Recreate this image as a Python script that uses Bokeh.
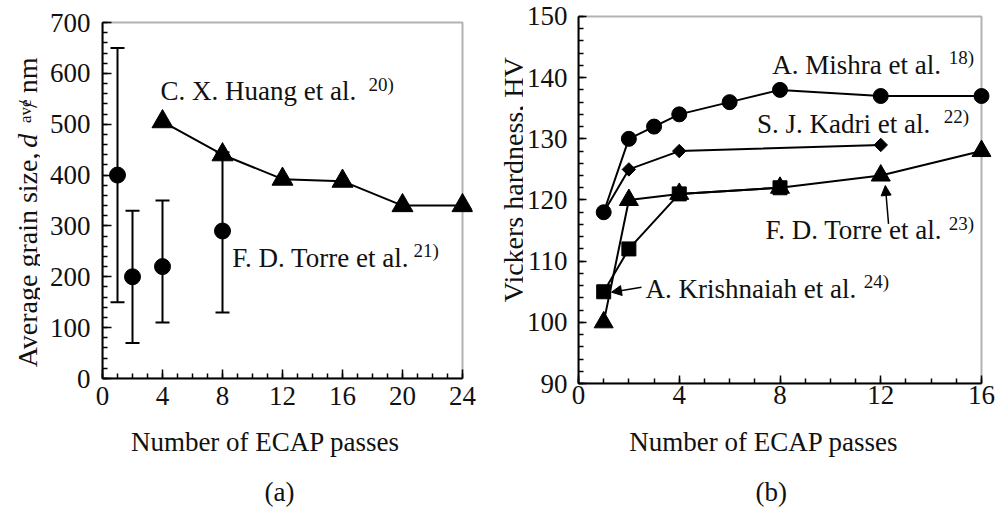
import math
from bokeh.plotting import figure
from bokeh.layouts import row, column
from bokeh.models import (Range1d, SingleIntervalTicker, Label, Whisker, TeeHead,
                          ColumnDataSource, Arrow, NormalHead, BoxAnnotation)
from bokeh.core.properties import value
from bokeh.embed import file_html
from bokeh.resources import INLINE

# ---------------- data (a) ----------------
huang_passes = [4, 8, 12, 16, 20, 24]
huang_grain = [505, 440, 392, 388, 340, 340]
torre_a_passes = [1, 2, 4, 8]
torre_a_grain = [400, 200, 220, 290]
torre_a_low = [150, 70, 110, 130]
torre_a_high = [650, 330, 350, 445]

# ---------------- data (b) ----------------
mishra_passes = [1, 2, 3, 4, 6, 8, 12, 16]
mishra_hv = [118, 130, 132, 134, 136, 138, 137, 137]
kadri_passes = [1, 2, 4, 12]
kadri_hv = [118, 125, 128, 129]
torre_b_passes = [1, 2, 4, 8, 12, 16]
torre_b_hv = [100, 120, 121, 122, 124, 128]
krish_passes = [1, 2, 4, 8]
krish_hv = [105, 112, 121, 122]

FONT = "Liberation Serif"
FS = "27px"
SUP = "19px"
INK = "#111111"
TOP_H = 423
BOT_H = 514 - TOP_H


def style(p, xb, yb, xint, yint, major_in, minor_in, xstand, ystand):
    p.xgrid.visible = False
    p.ygrid.visible = False
    p.outline_line_color = None
    p.background_fill_color = "white"
    p.border_fill_color = "white"
    p.xaxis.ticker = SingleIntervalTicker(interval=xint, num_minor_ticks=4)
    p.yaxis.ticker = SingleIntervalTicker(interval=yint, num_minor_ticks=5)
    p.xaxis.bounds = xb
    p.yaxis.bounds = yb
    for ax in (p.xaxis[0], p.yaxis[0]):
        ax.axis_line_color = "black"
        ax.axis_line_width = 2
        ax.major_tick_in = major_in
        ax.major_tick_out = 0
        ax.minor_tick_in = minor_in
        ax.minor_tick_out = 0
        ax.major_tick_line_width = 1.5
        ax.minor_tick_line_width = 1.5
        ax.major_label_text_font = FONT
        ax.major_label_text_font_size = FS
        ax.major_label_text_color = INK
    p.xaxis.major_label_standoff = xstand
    p.yaxis.major_label_standoff = ystand
    # plot box (top and right edges drawn inside a slightly larger frame so
    # that edge markers are not cut)
    p.add_layout(BoxAnnotation(left=xb[0], right=xb[1], bottom=yb[0], top=yb[1],
                               fill_alpha=0, line_color="black", line_width=2,
                               level="underlay"))


def lab(p, x, y, text, size=FS, style_="normal", align="left", baseline="alphabetic"):
    p.add_layout(Label(x=x, y=y, text=text, text_font=FONT, text_font_size=size,
                       text_font_style=style_, text_align=align, text_baseline=baseline,
                       text_color=INK))


def label_fig(w, h):
    f = figure(width=w, height=h, x_range=Range1d(0, w), y_range=Range1d(0, h),
               x_axis_type=None, y_axis_type=None, min_border=0,
               output_backend="svg", toolbar_location=None)
    f.outline_line_color = None
    f.xgrid.visible = False
    f.ygrid.visible = False
    f.background_fill_color = "white"
    f.border_fill_color = "white"
    return f


def txt(f, h, x, y_top, s, size=FS, style_="normal", align="center", angle=0.0):
    # y_top: pixels measured from the top of the small label canvas
    f.text(x=[x], y=[h - y_top], text=[s], text_font=value(FONT), text_font_size=value(size),
           text_font_style=style_, text_align=align, text_baseline="alphabetic",
           text_color=INK, angle=angle)


A = math.pi / 2

# ---------------- panel (a) ----------------
la = label_fig(40, TOP_H)
txt(la, TOP_H, 27, 284.5, "Average grain size,", size="28px", angle=A)
txt(la, TOP_H, 27, 144, "d", size="28px", style_="italic", angle=A)
txt(la, TOP_H, 25, 109.2, "ave", size="17px", angle=A)
txt(la, TOP_H, 27, 75.7, "/ nm", size="28px", angle=A)

pa = figure(frame_width=370, frame_height=360, min_border_left=62, min_border_right=25,
            min_border_top=17, min_border_bottom=TOP_H - 17 - 360,
            x_range=Range1d(0, 24 + 10 / 15.0), y_range=Range1d(0, 700 + 4 / 0.50857),
            output_backend="svg", toolbar_location=None)
style(pa, (0, 24), (0, 700), 4, 100, 9, 5, 8, 12)

src_t = ColumnDataSource(dict(x=torre_a_passes, y=torre_a_grain, lo=torre_a_low, hi=torre_a_high))
pa.add_layout(Whisker(base="x", lower="lo", upper="hi", source=src_t, line_width=2, line_color="black",
                      upper_head=TeeHead(size=14, line_width=2, line_color="black"),
                      lower_head=TeeHead(size=14, line_width=2, line_color="black")))
pa.scatter(torre_a_passes, torre_a_grain, marker="circle", size=16, color="black")
pa.line(huang_passes, huang_grain, line_width=2, color="black")
pa.scatter(huang_passes, huang_grain, marker="triangle", size=21, color="black")

lab(pa, 3.87, 565.3, "C. X. Huang et al.")
lab(pa, 17.73, 577.8, "20)", size=SUP)
lab(pa, 8.65, 237.3, "F. D. Torre et al.")
lab(pa, 20.73, 251.8, "21)", size=SUP)

xa = label_fig(497, BOT_H)
txt(xa, BOT_H, 265, 18, "Number of ECAP passes")
txt(xa, BOT_H, 279, 68, "(a)")

# ---------------- panel (b) ----------------
lb = label_fig(26, TOP_H)
txt(lb, TOP_H, 16, 190, "Vickers hardness, HV", size="28px", angle=A)

pb = figure(frame_width=413, frame_height=371, min_border_left=52, min_border_right=9,
            min_border_top=18, min_border_bottom=TOP_H - 16 - 367,
            x_range=Range1d(0, 16 + 10 / 25.1875), y_range=Range1d(90, 150 + 4 / 6.1167),
            output_backend="svg", toolbar_location=None)
pb.margin = (-6, 0, 0, 0)
style(pb, (0, 16), (90, 150), 4, 10, 8, 5, 2, 11)

pb.line(torre_b_passes, torre_b_hv, line_width=2, color="black")
pb.scatter(torre_b_passes, torre_b_hv, marker="triangle", size=19, color="black")
pb.line(krish_passes, krish_hv, line_width=2, color="black")
pb.scatter(krish_passes, krish_hv, marker="square", size=14, color="black")
pb.line(kadri_passes, kadri_hv, line_width=2, color="black")
pb.scatter(kadri_passes, kadri_hv, marker="square", angle=math.pi / 4, size=9.5, color="black")
pb.line(mishra_passes, mishra_hv, line_width=2, color="black")
pb.scatter(mishra_passes, mishra_hv, marker="circle", size=15, color="black")

lab(pb, 7.69, 142.04, "A. Mishra et al.")
lab(pb, 14.70, 143.22, "18)", size=SUP)
lab(pb, 7.09, 132.5, "S. J. Kadri et al.")
lab(pb, 14.50, 133.62, "22)", size=SUP)
lab(pb, 7.42, 115.06, "F. D. Torre et al.")
lab(pb, 14.70, 116.22, "23)", size=SUP)
lab(pb, 2.66, 105.53, "A. Krishnaiah et al.")
lab(pb, 11.33, 106.68, "24)", size=SUP)

pb.add_layout(Arrow(x_start=2.50, y_start=105.74, x_end=1.31, y_end=104.93, line_width=1.5,
                    line_color="black",
                    end=NormalHead(size=10, fill_color="black", line_color="black")))
pb.add_layout(Arrow(x_start=12.31, y_start=116.1, x_end=12.18, y_end=122.37, line_width=1.5,
                    line_color="black",
                    end=NormalHead(size=10, fill_color="black", line_color="black")))

xb = label_fig(500, BOT_H)
txt(xb, BOT_H, 266.3, 18, "Number of ECAP passes")
txt(xb, BOT_H, 273.8, 68, "(b)")

layout = column(row(la, pa, lb, pb, spacing=0), row(xa, xb, spacing=0), spacing=0)
open("out.html", "w").write(file_html(layout, INLINE))
